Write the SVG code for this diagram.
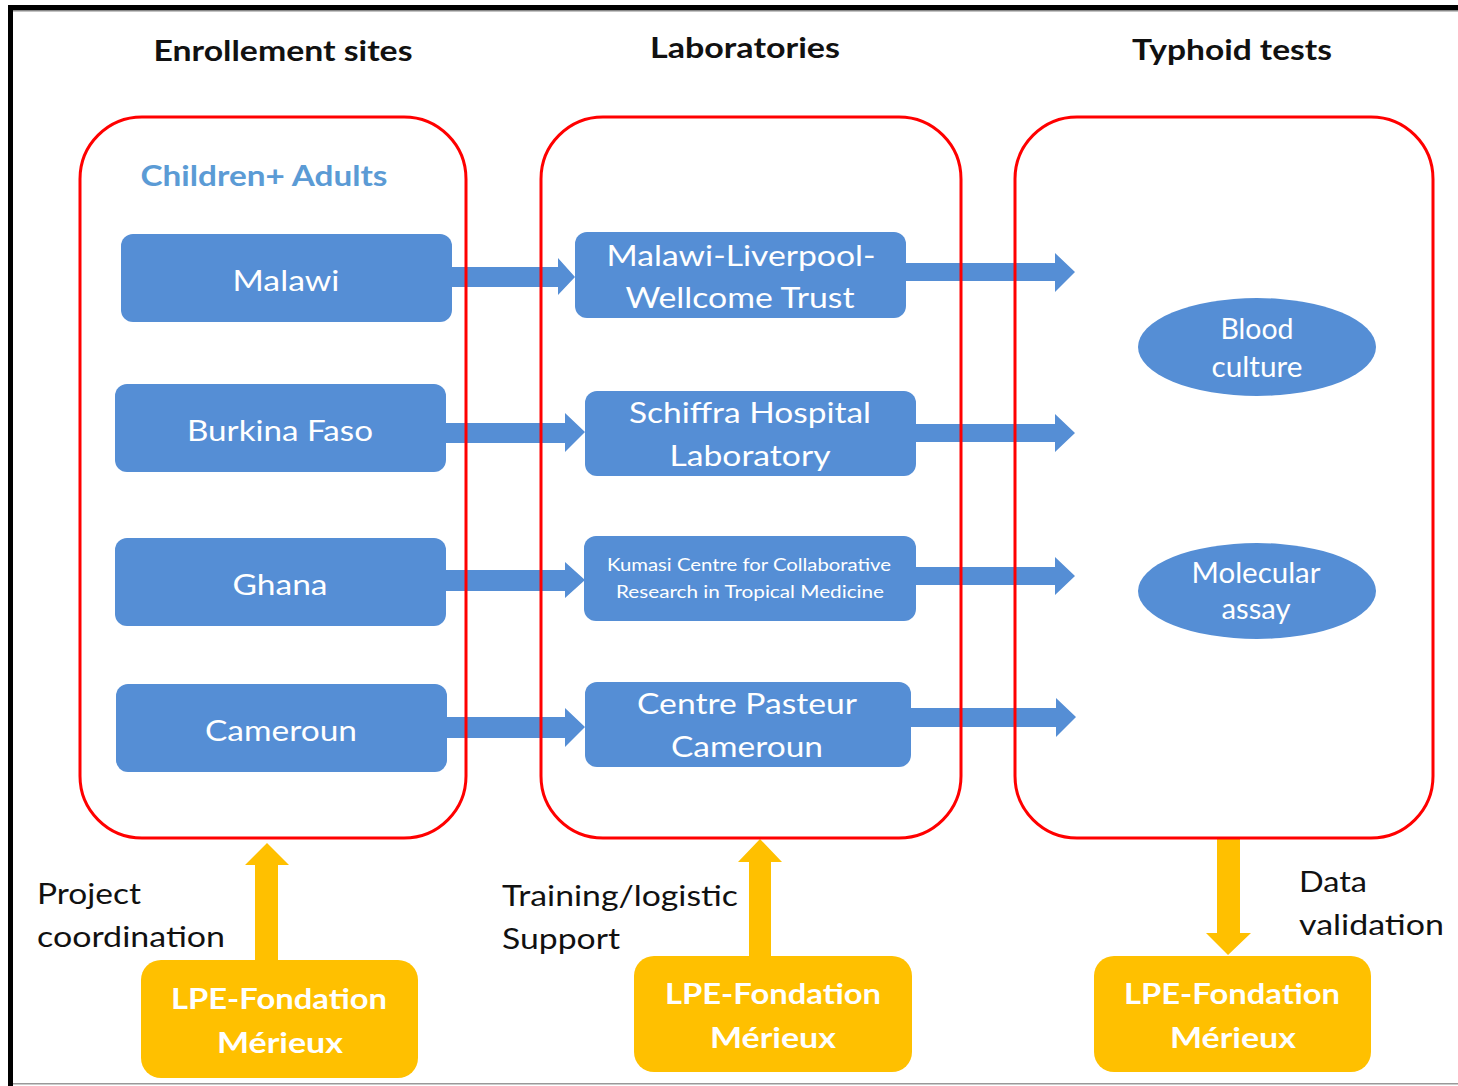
<svg xmlns="http://www.w3.org/2000/svg" width="1458" height="1086" viewBox="0 0 1458 1086">
<style>
.t{font-family:Lato,"Liberation Sans",sans-serif;}
.hdr{font-family:Lato,"Liberation Sans",sans-serif;font-weight:bold;font-size:28px;fill:#111;text-anchor:middle;}
.wt{font-family:Lato,"Liberation Sans",sans-serif;font-size:29px;fill:#fff;text-anchor:middle;}
.ws{font-family:Lato,"Liberation Sans",sans-serif;font-size:17.5px;fill:#fff;text-anchor:middle;}
.yt{font-family:Lato,"Liberation Sans",sans-serif;font-weight:bold;font-size:29px;fill:#fff;text-anchor:middle;}
.lbl{font-family:Lato,"Liberation Sans",sans-serif;font-size:29px;fill:#111;}
.box{fill:#558ED5;}
.ybox{fill:#FFC000;}
.cont{fill:none;stroke:#FF0000;stroke-width:3;}
.barr{fill:#558ED5;}
.yarr{fill:#FFC000;}
</style>
<rect x="0" y="0" width="1458" height="1086" fill="#fff"/>
<g id="frame">
<rect x="8" y="5" width="1450" height="5" fill="#000"/>
<rect x="8" y="10" width="1450" height="1.5" fill="#888"/>
<rect x="8" y="5" width="5" height="1081" fill="#000"/>
<rect x="13" y="1083" width="1445" height="1.5" fill="#999"/>
</g>
<g id="headers">
<text class="hdr" x="283" y="61" textLength="259" lengthAdjust="spacingAndGlyphs">Enrollement sites</text>
<text class="hdr" x="745" y="58" textLength="190" lengthAdjust="spacingAndGlyphs">Laboratories</text>
<text class="hdr" x="1232" y="60" textLength="200" lengthAdjust="spacingAndGlyphs">Typhoid tests</text>
</g>
<g id="connectors">
<polygon class="barr" points="446,267 558,267 558,258 575,277 558,295 558,287 446,287"/>
<polygon class="barr" points="440,423 565,423 565,413 585,432 565,452 565,443 440,443"/>
<polygon class="barr" points="440,570 565,570 565,562 585,580 565,598 565,591 440,591"/>
<polygon class="barr" points="441,717 565,717 565,708 585,727 565,747 565,738 441,738"/>
<polygon class="barr" points="900,263 1055,263 1055,253 1075,272 1055,292 1055,281 900,281"/>
<polygon class="barr" points="910,424 1055,424 1055,414 1075,433 1055,452 1055,442 910,442"/>
<polygon class="barr" points="910,567 1055,567 1055,557 1075,576 1055,595 1055,585 910,585"/>
<polygon class="barr" points="905,708 1056,708 1056,698 1076,717 1056,737 1056,727 905,727"/>
<polygon class="yarr" points="255,966 255,865 245,865 267,843 289,865 278,865 278,966"/>
<polygon class="yarr" points="749,960 749,862 738,862 760,839 782,862 771,862 771,960"/>
<polygon class="yarr" points="1217,838 1240,838 1240,933 1251,933 1228,955 1206,933 1217,933"/>
</g>
<g id="container-enrollment"><rect class="cont" x="80" y="117" width="386" height="721" rx="62"/></g>
<g id="container-labs"><rect class="cont" x="541" y="117" width="420" height="721" rx="62"/></g>
<g id="container-tests"><rect class="cont" x="1015" y="117" width="418" height="721" rx="62"/></g>
<g id="children-adults"><text class="t" x="264" y="186" font-size="28" font-weight="bold" fill="#5B9BD5" text-anchor="middle" textLength="247" lengthAdjust="spacingAndGlyphs">Children+ Adults</text></g>
<g id="malawi"><rect class="box" x="121" y="234" width="331" height="88" rx="12"/><text class="wt" x="286" y="291" textLength="107" lengthAdjust="spacingAndGlyphs">Malawi</text></g>
<g id="burkina"><rect class="box" x="115" y="384" width="331" height="88" rx="12"/><text class="wt" x="280" y="441" textLength="186" lengthAdjust="spacingAndGlyphs">Burkina Faso</text></g>
<g id="ghana"><rect class="box" x="115" y="538" width="331" height="88" rx="12"/><text class="wt" x="280" y="595" textLength="95" lengthAdjust="spacingAndGlyphs">Ghana</text></g>
<g id="cameroun"><rect class="box" x="116" y="684" width="331" height="88" rx="12"/><text class="wt" x="281" y="741" textLength="152" lengthAdjust="spacingAndGlyphs">Cameroun</text></g>
<g id="mlw"><rect class="box" x="575" y="232" width="331" height="86" rx="12"/><text class="wt" x="741" y="266" textLength="269" lengthAdjust="spacingAndGlyphs">Malawi-Liverpool-</text><text class="wt" x="740" y="308" textLength="229" lengthAdjust="spacingAndGlyphs">Wellcome Trust</text></g>
<g id="schiffra"><rect class="box" x="585" y="391" width="331" height="85" rx="12"/><text class="wt" x="750" y="423" textLength="242" lengthAdjust="spacingAndGlyphs">Schiffra Hospital</text><text class="wt" x="750" y="466" textLength="161" lengthAdjust="spacingAndGlyphs">Laboratory</text></g>
<g id="kumasi"><rect class="box" x="584" y="536" width="332" height="85" rx="12"/><text class="ws" x="749" y="571" textLength="284" lengthAdjust="spacingAndGlyphs">Kumasi Centre for Collaborative</text><text class="ws" x="750" y="598" textLength="268" lengthAdjust="spacingAndGlyphs">Research in Tropical Medicine</text></g>
<g id="pasteur"><rect class="box" x="585" y="682" width="326" height="85" rx="12"/><text class="wt" x="747" y="714" textLength="220" lengthAdjust="spacingAndGlyphs">Centre Pasteur</text><text class="wt" x="747" y="757" textLength="152" lengthAdjust="spacingAndGlyphs">Cameroun</text></g>
<g id="blood"><ellipse class="box" cx="1257" cy="347" rx="119" ry="49"/><text class="wt" font-size="27" x="1257" y="339" textLength="73" lengthAdjust="spacingAndGlyphs">Blood</text><text class="wt" font-size="27" x="1257" y="377" textLength="91" lengthAdjust="spacingAndGlyphs">culture</text></g>
<g id="molecular"><ellipse class="box" cx="1257" cy="591" rx="119" ry="48"/><text class="wt" font-size="27" x="1256" y="583" textLength="129" lengthAdjust="spacingAndGlyphs">Molecular</text><text class="wt" font-size="27" x="1256" y="619" textLength="69" lengthAdjust="spacingAndGlyphs">assay</text></g>
<g id="lpe-left"><rect class="ybox" x="141" y="960" width="277" height="118" rx="20"/><text class="yt" x="279" y="1009" textLength="216" lengthAdjust="spacingAndGlyphs">LPE-Fondation</text><text class="yt" x="280" y="1053" textLength="126" lengthAdjust="spacingAndGlyphs">Mérieux</text></g>
<g id="lpe-mid"><rect class="ybox" x="634" y="956" width="278" height="116" rx="20"/><text class="yt" x="773" y="1004" textLength="216" lengthAdjust="spacingAndGlyphs">LPE-Fondation</text><text class="yt" x="773" y="1048" textLength="126" lengthAdjust="spacingAndGlyphs">Mérieux</text></g>
<g id="lpe-right"><rect class="ybox" x="1094" y="956" width="277" height="116" rx="20"/><text class="yt" x="1232" y="1004" textLength="216" lengthAdjust="spacingAndGlyphs">LPE-Fondation</text><text class="yt" x="1233" y="1048" textLength="126" lengthAdjust="spacingAndGlyphs">Mérieux</text></g>
<g id="labels">
<text class="lbl" x="37" y="904" textLength="104" lengthAdjust="spacingAndGlyphs">Project</text>
<text class="lbl" x="37" y="947" textLength="188" lengthAdjust="spacingAndGlyphs">coordination</text>
<text class="lbl" x="502" y="906" textLength="236" lengthAdjust="spacingAndGlyphs">Training/logistic</text>
<text class="lbl" x="502" y="949" textLength="118" lengthAdjust="spacingAndGlyphs">Support</text>
<text class="lbl" x="1299" y="892" textLength="68" lengthAdjust="spacingAndGlyphs">Data</text>
<text class="lbl" x="1299" y="935" textLength="145" lengthAdjust="spacingAndGlyphs">validation</text>
</g>
</svg>
